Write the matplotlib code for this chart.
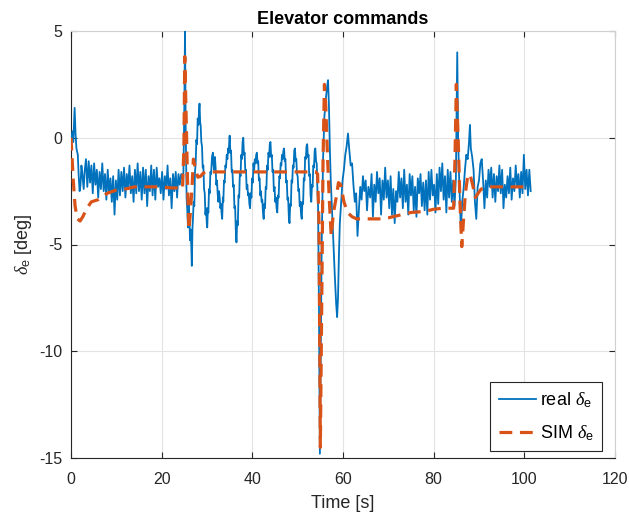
import matplotlib
matplotlib.use("Agg")
import matplotlib.pyplot as plt

# ---------------- data ----------------
# measured elevator deflection: (time [s], deflection [deg])
real_start = [(0.0, -0.2), (0.3, 0.3), (0.5, -0.2), (0.8, 1.4), (1.0, 0.2), (1.2, -0.5),
              (1.5, -0.8), (1.7, -1.8), (1.9, -2.5), (2.1, -2.2), (2.3, -1.3), (2.5, -1.7),
              (2.8, -2.4), (3.0, -1.6), (3.3, -1.0), (3.6, -2.3), (3.9, -1.1), (4.2, -2.1),
              (4.5, -1.3), (4.8, -2.6), (5.1, -1.2), (5.4, -2.2), (5.7, -1.5), (6.0, -2.8),
              (6.3, -1.6), (6.6, -2.4), (6.9, -1.2), (7.2, -2.5), (7.5, -1.7), (7.8, -2.9),
              (8.1, -1.5), (8.4, -2.6), (8.7, -1.9), (9.0, -3.0), (9.3, -1.8), (9.6, -3.6),
              (9.9, -2.0), (10.2, -2.9), (10.5, -1.5), (10.8, -2.7), (11.1, -1.6), (11.4, -2.5),
              (11.7, -1.4), (12.0, -2.8), (12.3, -1.7), (12.6, -2.4), (12.9, -1.3), (13.2, -2.6),
              (13.5, -1.8), (13.8, -3.0), (14.1, -1.5), (14.4, -2.6), (14.7, -1.2), (15.0, -2.5),
              (15.3, -1.6), (15.6, -2.9), (15.9, -1.4), (16.2, -2.6), (16.5, -1.5), (16.8, -3.2),
              (17.1, -1.8), (17.4, -2.5), (17.7, -1.3), (18.0, -2.7), (18.3, -1.5), (18.6, -2.9),
              (18.9, -1.4), (19.2, -2.3), (19.5, -1.9), (19.8, -2.6), (20.1, -1.6), (20.4, -2.9),
              (20.7, -1.8), (21.0, -2.4), (21.3, -1.3), (21.6, -2.7), (21.9, -1.9), (22.2, -3.3),
              (22.5, -1.7), (22.8, -2.5), (23.1, -1.6), (23.4, -2.8), (23.7, -1.7), (24.0, -2.2),
              (24.3, -1.7), (24.6, -1.9)]

real_mid = [(24.8, -1.6), (25.0, 1.5), (25.15, 5.0), (25.3, 0.5), (25.5, -2.8), (25.65, -3.4),
            (25.8, -4.2), (25.95, -3.1), (26.1, -3.6), (26.25, -4.8), (26.4, -4.3), (26.55, -5.2),
            (26.65, -6.0), (26.8, -4.2), (26.9, -3.8), (27.05, -3.0), (27.2, -3.2), (27.35, -1.6),
            (27.5, -1.2), (27.65, -0.1), (27.8, -0.3), (27.95, 0.9), (28.1, 0.6), (28.25, 1.3),
            (28.35, 1.6), (28.5, 0.7), (28.6, 0.6), (28.75, -0.2), (28.9, -0.4), (29.05, -1.4),
            (29.2, -1.3), (29.35, -2.4), (29.5, -2.6), (29.65, -3.6), (29.8, -3.3), (29.95, -4.0),
            (30.05, -4.2), (30.2, -3.3), (30.3, -3.5), (30.45, -2.4), (30.6, -2.6), (30.75, -1.6),
            (30.9, -1.7), (31.1, -0.9), (31.3, -0.7), (31.45, -1.3), (31.6, -1.5), (31.75, -0.9),
            (31.9, -1.4), (32.05, -2.2), (32.2, -2.0), (32.35, -2.6), (32.5, -3.0), (32.65, -2.5),
            (32.8, -2.8), (32.95, -3.3), (33.1, -3.1), (33.2, -3.5), (33.35, -3.8), (33.5, -2.8),
            (33.6, -3.0), (33.75, -2.0), (33.9, -2.1), (34.05, -1.3), (34.2, -1.4), (34.35, -0.8),
            (34.5, -1.0), (34.65, -0.5), (34.8, -0.7), (34.9, -0.2), (35.0, 0.1), (35.15, -0.7),
            (35.3, -0.6), (35.45, -1.6), (35.6, -1.5), (35.75, -2.3), (35.9, -2.2), (36.05, -3.3),
            (36.2, -3.2), (36.35, -4.3), (36.5, -4.9), (36.65, -3.9), (36.8, -4.1), (36.95, -2.7),
            (37.1, -2.8), (37.25, -1.6), (37.4, -1.8), (37.55, -0.8), (37.7, -1.0), (37.85, -0.2),
            (38.0, 0.0), (38.15, -0.8), (38.3, -0.7), (38.45, -1.6), (38.6, -1.5), (38.75, -2.4),
            (38.9, -2.2), (39.05, -2.7), (39.2, -2.6), (39.35, -3.1), (39.5, -3.3), (39.65, -2.6),
            (39.8, -2.8), (39.95, -1.9), (40.1, -2.1), (40.25, -1.2), (40.4, -1.5), (40.55, -1.0),
            (40.7, -1.2), (40.85, -0.8), (41.0, -0.7), (41.15, -1.2), (41.3, -1.1), (41.45, -2.0),
            (41.6, -1.9), (41.75, -2.7), (41.9, -2.5), (42.05, -3.0), (42.2, -2.9), (42.35, -3.5),
            (42.5, -3.8), (42.65, -3.1), (42.8, -3.3), (42.95, -2.3), (43.1, -2.4), (43.25, -1.3),
            (43.4, -1.5), (43.55, -0.7), (43.7, -0.9), (43.85, -0.3), (44.0, -0.2), (44.15, -0.9),
            (44.3, -0.8), (44.45, -1.6), (44.6, -1.5), (44.75, -2.5), (44.9, -2.3), (45.05, -3.0),
            (45.2, -2.8), (45.35, -3.3), (45.5, -3.5), (45.65, -2.7), (45.8, -2.8), (45.95, -1.8),
            (46.1, -1.9), (46.25, -1.2), (46.4, -1.3), (46.55, -0.8), (46.7, -1.0), (46.85, -0.6),
            (47.0, -0.5), (47.15, -1.1), (47.3, -1.0), (47.45, -2.1), (47.6, -2.0), (47.75, -2.9),
            (47.9, -2.8), (48.05, -3.7), (48.2, -4.0), (48.35, -3.1), (48.5, -3.2), (48.65, -2.0),
            (48.8, -2.1), (48.95, -1.3), (49.1, -1.4), (49.25, -0.6), (49.4, -0.5), (49.55, -1.1),
            (49.7, -1.0), (49.85, -1.7), (50.0, -1.8), (50.15, -2.5), (50.3, -2.4), (50.45, -3.2),
            (50.6, -3.0), (50.75, -3.6), (50.9, -3.8), (51.05, -3.0), (51.2, -3.1), (51.35, -1.9),
            (51.5, -2.0), (51.65, -0.9), (51.8, -1.0), (51.95, -0.4), (52.1, -0.3), (52.25, -0.9),
            (52.4, -0.8), (52.55, -1.8), (52.7, -1.7), (52.85, -2.7), (53.0, -3.0), (53.15, -2.2),
            (53.3, -2.3), (53.45, -1.3), (53.6, -1.4), (53.75, -0.6), (53.9, -0.5), (54.05, -1.1),
            (54.2, -1.2), (54.35, -2.4), (54.5, -3.2), (54.7, -8.0), (54.9, -14.8)]

real_late = [(55.1, -10.0), (55.3, -5.0), (55.6, -1.0), (55.9, 1.0), (56.2, 1.8), (56.5, 2.4),
             (56.7, 2.7), (56.9, 1.5), (57.1, -0.5), (57.3, -2.0), (57.6, -3.5), (57.9, -5.0),
             (58.2, -6.5), (58.5, -7.8), (58.7, -8.4), (58.9, -7.5), (59.1, -5.5), (59.3, -4.0),
             (59.6, -3.0), (59.9, -2.0), (60.2, -1.5), (60.5, -0.8), (60.8, -0.4), (61.1, 0.2),
             (61.4, -0.6), (61.7, -1.3), (62.0, -1.2), (62.3, -2.2), (62.6, -3.0), (62.9, -2.6),
             (63.2, -4.6), (63.5, -3.4), (63.8, -2.3), (64.1, -2.9), (64.4, -1.8), (64.7, -2.5),
             (65.0, -2.0), (65.3, -3.4), (65.6, -2.3), (66.0, -2.8), (66.3, -1.7), (66.6, -3.7),
             (66.9, -2.2), (67.2, -3.0), (67.5, -1.6), (67.8, -2.6), (68.1, -1.9), (68.4, -3.6),
             (68.7, -2.0), (69.0, -2.9), (69.3, -1.4), (69.6, -2.8), (69.9, -2.0), (70.2, -3.3),
             (70.5, -1.8), (70.8, -3.6), (71.1, -2.4), (71.4, -4.0), (71.7, -2.5), (72.0, -3.0),
             (72.3, -1.6), (72.6, -2.8), (72.9, -1.9), (73.2, -3.3), (73.5, -1.5), (73.8, -3.0),
             (74.1, -2.2), (74.4, -3.6), (74.7, -1.7), (75.0, -2.7), (75.3, -1.8), (75.6, -3.4),
             (75.9, -2.3), (76.2, -3.7), (76.5, -1.9), (76.8, -2.6), (77.1, -1.7), (77.4, -3.2),
             (77.7, -2.1), (78.0, -3.4), (78.3, -2.0), (78.6, -3.6), (78.9, -1.6), (79.2, -2.9),
             (79.5, -1.5), (79.8, -2.7), (80.1, -2.2), (80.4, -3.5), (80.7, -1.7), (81.0, -3.1),
             (81.3, -1.4), (81.6, -2.5), (81.9, -1.2), (82.2, -2.9), (82.5, -1.8), (82.8, -3.5),
             (83.1, -1.5), (83.4, -2.8), (83.7, -1.6), (84.0, -3.0), (84.3, -2.0), (84.6, -3.2),
             (84.9, -1.9)]

real_end = [(85.05, 1.0), (85.2, 4.0), (85.4, 0.0), (85.6, -1.8), (85.8, -3.0), (86.0, -4.3),
            (86.3, -3.0), (86.6, -2.4), (86.9, -1.5), (87.2, -0.8), (87.5, -1.0), (87.8, -0.2),
            (88.0, 0.6), (88.2, -0.5), (88.5, -0.9), (88.8, -1.5), (89.1, -3.0), (89.4, -3.8),
            (89.7, -2.3), (90.0, -2.0), (90.3, -1.2), (90.6, -1.0), (90.9, -2.0), (91.2, -3.3),
            (91.5, -2.0), (91.8, -2.8), (92.1, -1.5), (92.4, -2.3), (92.7, -1.4), (93.0, -2.8),
            (93.3, -1.7), (93.6, -3.0), (93.9, -1.8), (94.2, -2.5), (94.5, -1.3), (94.8, -2.6),
            (95.1, -1.5), (95.4, -3.3), (95.7, -2.2), (96.0, -2.8), (96.3, -1.8), (96.6, -2.6),
            (96.9, -1.4), (97.2, -2.9), (97.5, -1.9), (97.8, -2.5), (98.1, -1.3), (98.4, -2.3),
            (98.7, -1.7), (99.0, -2.8), (99.3, -1.6), (99.6, -2.6), (99.9, -0.8), (100.2, -2.4),
            (100.5, -1.5), (100.8, -2.7), (101.1, -1.5), (101.4, -2.5)]

# simulated elevator deflection: (time [s], deflection [deg])
sim_points = [(0.0, 0.0), (0.2, -0.8), (0.5, -2.0), (0.9, -3.2), (1.4, -3.8), (2.0, -3.9),
              (2.6, -3.7), (3.5, -3.3), (4.5, -3.0), (6.0, -2.9), (8.0, -2.6), (10.0, -2.45),
              (12.0, -2.4), (14.0, -2.3), (16.0, -2.3), (18.0, -2.3), (20.0, -2.3), (22.0, -2.35),
              (24.0, -2.35), (24.6, -2.4), (24.9, -0.5), (25.1, 3.8), (25.4, 1.0), (25.7, -2.0),
              (26.0, -4.3), (26.3, -3.6), (26.7, -2.3), (27.0, -1.0), (27.5, -1.5), (28.0, -1.85),
              (28.6, -1.8), (29.2, -1.65), (30.0, -1.6), (35.0, -1.6), (40.0, -1.6), (45.0, -1.6),
              (50.0, -1.6), (54.0, -1.6), (54.4, -1.7), (54.7, -4.0), (55.0, -14.5), (55.3, -8.0),
              (55.6, -1.0), (55.9, 2.5), (56.2, 1.5), (56.6, -1.0), (57.0, -3.0), (57.4, -4.6),
              (57.9, -3.5), (58.5, -2.8), (59.0, -2.1), (59.5, -2.2), (60.2, -3.0), (61.0, -3.5),
              (62.0, -3.7), (63.0, -3.8), (65.0, -3.8), (68.0, -3.8), (70.0, -3.75), (72.0, -3.65),
              (75.0, -3.5), (78.0, -3.45), (80.0, -3.35), (82.0, -3.3), (84.0, -3.3), (84.4, -3.3),
              (84.7, -1.0), (85.0, 2.5), (85.4, 0.0), (85.8, -3.0), (86.2, -5.1), (86.6, -3.8),
              (87.0, -2.6), (87.5, -1.8), (88.0, -1.7), (88.6, -2.2), (89.2, -2.8), (89.8, -2.6),
              (90.5, -2.4), (92.0, -2.3), (96.0, -2.3), (100.0, -2.3), (101.5, -2.3)]

x_ticks = [0, 20, 40, 60, 80, 100, 120]
y_ticks = [-15, -10, -5, 0, 5]

real_points = real_start + real_mid + real_late + real_end
real_t = [p[0] for p in real_points]
real_v = [p[1] for p in real_points]
sim_t = [p[0] for p in sim_points]
sim_v = [p[1] for p in sim_points]

# ---------------- figure ----------------
plt.rcParams['font.family'] = ['Liberation Sans', 'DejaVu Sans']
plt.rcParams['mathtext.fontset'] = 'custom'
plt.rcParams['mathtext.it'] = 'Liberation Serif:italic'
plt.rcParams['mathtext.rm'] = 'Liberation Sans'
plt.rcParams['axes.unicode_minus'] = False

fig = plt.figure(figsize=(6.29, 5.13), dpi=100)
ax = fig.add_axes([71 / 629, 1 - 458 / 513, (615 - 71) / 629, (458 - 31) / 513])

blue = '#0072BD'
orange = '#D95319'
text_col = '#262626'

ax.plot(real_t, real_v, color=blue, lw=1.3, label=r'real $\delta_{\rm e}$', zorder=3)
ax.plot(sim_t, sim_v, color=orange, lw=2.3, linestyle=(0, (4.0, 2.4)),
        label=r'SIM $\delta_{\rm e}$', zorder=4)

ax.set_xlim(0, 120)
ax.set_ylim(-15, 5)
ax.set_xticks(x_ticks)
ax.set_yticks(y_ticks)
ax.grid(True, color='#E3E3E3', lw=0.8)
ax.set_axisbelow(True)
ax.tick_params(direction='in', length=4, width=0.8, colors=text_col,
               labelsize=11.5, top=True, right=True)
ax.tick_params(axis='x', pad=10)
ax.tick_params(axis='y', pad=6)
for sp in ax.spines.values():
    sp.set_color('#262626')
    sp.set_linewidth(0.8)
for sp in ('top', 'right'):
    ax.spines[sp].set_color('#D0D0D0')

ax.set_title('Elevator commands', fontsize=13, fontweight='bold', color='black', pad=5)
ax.set_xlabel('Time [s]', fontsize=13, color=text_col, labelpad=6)
ax.set_ylabel(r'$\delta_{\rm e}$ [deg]', fontsize=13, color=text_col, labelpad=4)

leg = ax.legend(loc='lower right', bbox_to_anchor=(602 / 629, 1 - 451 / 513),
                bbox_transform=fig.transFigure, fontsize=13, fancybox=False,
                framealpha=1, edgecolor='#262626', handlelength=2.1,
                handletextpad=0.2, borderpad=0.45, labelspacing=0.75, borderaxespad=0)
leg.get_frame().set_linewidth(0.8)

fig.savefig('out.png', dpi=100)
